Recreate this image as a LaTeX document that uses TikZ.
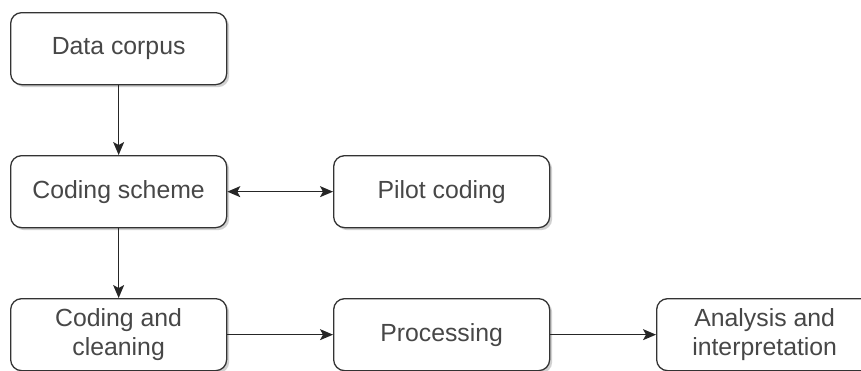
\documentclass[tikz,border=0pt]{standalone}
\usepackage{fontspec}
\setmainfont{Liberation Sans}
\usetikzlibrary{arrows.meta,shadows}
\definecolor{edgecol}{HTML}{333333}
\definecolor{txtcol}{HTML}{474747}
\tikzset{
  procbox/.style={draw=edgecol, line width=1.3pt, fill=white, rounded corners=11pt,
    minimum width=216pt, minimum height=72pt, inner sep=0pt, anchor=north west,
    text=txtcol, align=center, font=\fontsize{24.8}{29}\selectfont,
    drop shadow={shadow xshift=2.5pt, shadow yshift=-2.5pt, opacity=0.18, fill=black}},
  flow/.style={draw=black!85, line width=1.3pt, -{Stealth[length=13pt,width=11pt,inset=3pt]}},
  bothflow/.style={draw=black!85, line width=1.3pt, {Stealth[length=13pt,width=11pt,inset=3pt]}-{Stealth[length=13pt,width=11pt,inset=3pt]}}
}
\begin{document}
\begin{tikzpicture}[x=1pt,y=-1pt]
\useasboundingbox (0,0) rectangle (861,370);
\node[procbox] (corpus) at (10,12) {Data corpus};
\node[procbox] (scheme) at (10,155) {Coding scheme};
\node[procbox] (pilot) at (333,155) {Pilot coding};
\node[procbox] (clean) at (10,298) {Coding and\\cleaning};
\node[procbox] (proc) at (333,298) {Processing};
\node[procbox] (anal) at (656,298) {Analysis and\\interpretation};
\draw[flow] (corpus) -- (scheme);
\draw[flow] (scheme) -- (clean);
\draw[bothflow] (scheme) -- (pilot);
\draw[flow] (clean) -- (proc);
\draw[flow] (proc) -- (anal);
\end{tikzpicture}
\end{document}
